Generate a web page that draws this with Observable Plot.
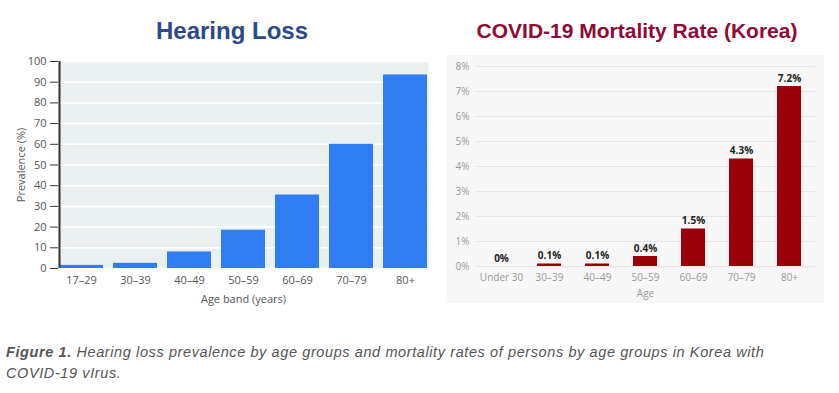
<!DOCTYPE html>
<html>
<head>
<meta charset="utf-8">
<script src="https://cdn.jsdelivr.net/npm/d3@7"></script>
<script src="https://cdn.jsdelivr.net/npm/@observablehq/plot@0.6"></script>
<style>
  html, body { margin: 0; padding: 0; background: #fff; width: 839px; height: 393px; overflow: hidden; }
  body { position: relative; font-family: "Liberation Sans", Arial, sans-serif; }
  .title { position: absolute; font-weight: bold; white-space: nowrap; transform: translateX(-50%); line-height: 1; }
  #t1 { left: 232px; top: 19px; font-size: 24px; color: #2b4a87; }
  #t2 { left: 637px; top: 20px; font-size: 21px; color: #8f0a35; }
  #c1 { position: absolute; left: 0; top: 45px; }
  #c2 { position: absolute; left: 446px; top: 55px; background: #f7f7f7; }
  #caption { position: absolute; left: 6px; top: 342px; width: 830px; font-family: "Liberation Sans", Arial, sans-serif; font-style: italic; font-size: 14.5px; letter-spacing: 0.6px; line-height: 21px; color: #555; white-space: nowrap; }
  #caption b { font-weight: bold; }
</style>
</head>
<body>
<div id="t1" class="title">Hearing Loss</div>
<div id="t2" class="title">COVID-19 Mortality Rate (Korea)</div>
<div id="c1"></div>
<div id="c2"></div>
<div id="caption"><b>Figure 1.</b> Hearing loss prevalence by age groups and mortality rates of persons by age groups in Korea with<br>COVID-19 vIrus.</div>
<script>
const hearingAges = ["17–29", "30–39", "40–49", "50–59", "60–69", "70–79", "80+"];
const hearingPrevalence = [1.5, 2.5, 8, 18.5, 35.5, 60, 93.5];
const hearingTicks = [0, 10, 20, 30, 40, 50, 60, 70, 80, 90, 100];

const covidAges = ["Under 30", "30–39", "40–49", "50–59", "60–69", "70–79", "80+"];
const covidMortality = [0, 0.1, 0.1, 0.4, 1.5, 4.3, 7.2];
const covidLabels = ["0%", "0.1%", "0.1%", "0.4%", "1.5%", "4.3%", "7.2%"];
const covidTicks = [0, 1, 2, 3, 4, 5, 6, 7, 8];

const hearing = hearingAges.map((a, i) => ({age: a, value: hearingPrevalence[i]}));
const covid = covidAges.map((a, i) => ({age: a, value: covidMortality[i], label: covidLabels[i]}));

const p1 = Plot.plot({
  width: 435, height: 270,
  marginLeft: 58, marginRight: 7, marginTop: 16, marginBottom: 47,
  style: {fontFamily: "'Open Sans', 'Liberation Sans', sans-serif", fontSize: "11px", color: "#555", background: "transparent"},
  x: {domain: hearingAges, paddingInner: 0.186, paddingOuter: 0},
  y: {domain: [0, 100]},
  marks: [
    Plot.frame({fill: "#eaf0f0", stroke: null}),
    Plot.gridY(hearingTicks, {stroke: "#fff", strokeOpacity: 1, strokeWidth: 1.5}),
    Plot.barY(hearing, {x: "age", y: "value", fill: "#2f7cf3"}),
    Plot.axisY(hearingTicks, {tickSize: 8, tickPadding: 4, stroke: "#333", label: "Prevalence (%)", labelAnchor: "center", labelOffset: 41, labelArrow: "none", fontSize: 11, fill: "#555"}),
    Plot.axisX({tickSize: 0, tickPadding: 8, label: "Age band (years)", labelAnchor: "center", labelOffset: 34, fill: "#555", fontSize: 11}),
    Plot.ruleY([0], {stroke: "#333", strokeWidth: 2, x1: -8}),
    Plot.ruleX([hearingAges[0]], {stroke: "#333", strokeWidth: 2, dx: -22, y1: 0, y2: 100})
  ]
});
document.getElementById("c1").appendChild(p1);

const p2 = Plot.plot({
  width: 378, height: 248,
  marginLeft: 29, marginRight: 9, marginTop: 11, marginBottom: 37,
  style: {fontFamily: "'Open Sans', 'Liberation Sans', sans-serif", fontSize: "10px", color: "#999", background: "transparent"},
  x: {domain: covidAges, paddingInner: 0.51, paddingOuter: 0.235},
  y: {domain: [0, 8]},
  marks: [
    Plot.gridY(covidTicks, {stroke: "#e6e6e6", strokeOpacity: 1}),
    Plot.barY(covid, {x: "age", y: "value", fill: "#9a0008"}),
    Plot.text(covid, {x: "age", y: "value", text: "label", dy: -8, fontWeight: "bold", fill: "#222", fontSize: 10}),
    Plot.axisY(covidTicks, {tickSize: 0, tickPadding: 6, tickFormat: d => d + "%", label: null, fill: "#999", fontSize: 10}),
    Plot.axisX({tickSize: 0, tickPadding: 7, label: "Age", labelAnchor: "center", labelOffset: 30, fill: "#999", fontSize: 10}),
  ]
});
document.getElementById("c2").appendChild(p2);
</script>
</body>
</html>
